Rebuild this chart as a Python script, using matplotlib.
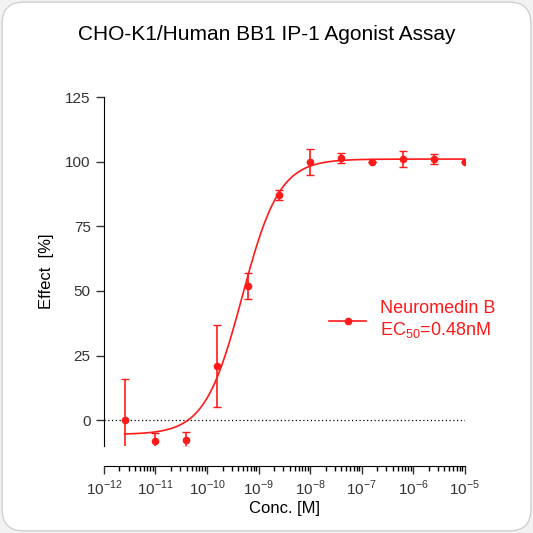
import numpy as np
import matplotlib
matplotlib.use("Agg")
import matplotlib.pyplot as plt
from matplotlib.patches import FancyBboxPatch
from matplotlib.lines import Line2D

plt.rcParams["font.family"] = ["Liberation Sans", "DejaVu Sans"]
plt.rcParams["mathtext.fontset"] = "custom"
plt.rcParams["mathtext.rm"] = "Liberation Sans"

logx = [-11.6, -11.0, -10.4, -9.8, -9.2, -8.6, -8.0, -7.4, -6.8, -6.2, -5.6, -5.0]
effect = [0, -8, -7.5, 21, 52, 87, 100, 101.5, 100, 101, 101, 100]
err = [16, 3, 3, 16, 5, 2, 5, 2, 0, 3, 2, 0]
bottom, top, logec50, hill = -5.5, 101, np.log10(0.48e-9), 1.2

fig = plt.figure(figsize=(5.33, 5.33), dpi=100)
fig.patch.set_facecolor("#f2f2f2")
bg = FancyBboxPatch((0.004, 0.004), 0.992, 0.992, boxstyle="round,pad=0,rounding_size=0.04",
                    transform=fig.transFigure, facecolor="white", edgecolor="#d0d0d0", lw=1, zorder=-10)
fig.patches.append(bg)
ax = fig.add_axes([0.195, 0.163, 0.677, 0.655])
ax.patch.set_alpha(0)
red = "#ff1a1a"
xs = np.linspace(-11.6, -5, 300)
ys = bottom + (top - bottom) / (1 + 10 ** ((logec50 - xs) * hill))
ax.plot(xs, ys, color=red, lw=1.2)
ax.errorbar(logx, effect, yerr=err, fmt="o", color=red, ms=4.5, capsize=3, elinewidth=1.2)
ax.axhline(0, color="black", ls=(0, (1, 2)), lw=0.9)
ax.set_xlim(-12, -5)
ax.set_ylim(-10, 125)
ax.set_yticks([0, 25, 50, 75, 100, 125])
ax.set_xticks(range(-12, -4))
ax.set_xticklabels([f"10$^{{{i}}}$" for i in range(-12, -4)])
minor = [d + np.log10(k) for d in range(-12, -5) for k in range(2, 10)]
ax.set_xticks(minor, minor=True)
ax.tick_params(axis="both", direction="out", length=6, width=1, labelsize=11, colors="#333333")
ax.tick_params(axis="x", which="minor", length=3.5, width=1)
ax.spines["top"].set_visible(False)
ax.spines["right"].set_visible(False)
ax.spines["bottom"].set_position(("outward", 14))
ax.set_xlabel("Conc. [M]", fontsize=12, labelpad=2)
ax.set_ylabel("Effect  [%]", fontsize=12, labelpad=8)
fig.text(0.5, 0.935, "CHO-K1/Human BB1 IP-1 Agonist Assay", ha="center", va="center", fontsize=15)
ax.legend([Line2D([], [], color=red, marker="o", ms=4.5, lw=1.2)], ["Neuromedin B\nEC$_{50}$=0.48nM"],
          loc="center left", bbox_to_anchor=(0.58, 0.36), frameon=False, fontsize=13,
          labelcolor=red, handlelength=2.0)
fig.savefig("out.png", dpi=100)
